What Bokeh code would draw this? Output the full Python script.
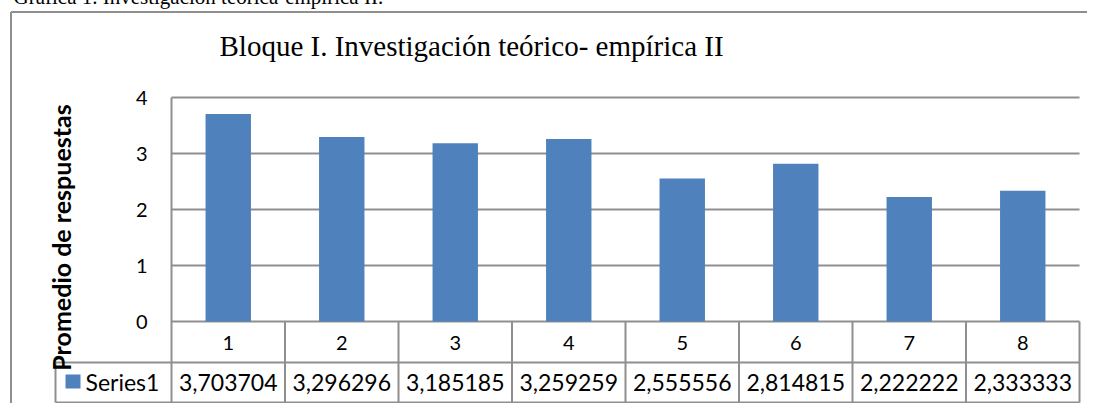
import math
from bokeh.plotting import figure
from bokeh.models import Range1d, ColumnDataSource
from bokeh.core.properties import value
from bokeh.embed import file_html
from bokeh.resources import INLINE

# ---------------- data ----------------
categories = ["1", "2", "3", "4", "5", "6", "7", "8"]
series_name = "Series1"
values = [3.703704, 3.296296, 3.185185, 3.259259, 2.555556, 2.814815, 2.222222, 2.333333]
y_ticks = [0, 1, 2, 3, 4]
title_text = "Bloque I. Investigación teórico- empírica II"
caption_text = "Gráfica 1. Investigación teórica-empírica II."
y_label = "Promedio de respuestas"

# ---------------- layout (pixel geometry of the reference) ----------------
W, H = 1087, 411
OX, OY = 0, -8           # observed canvas origin in page pixels
PX_LEFT, PX_RIGHT = 171, 1079
PX_Y0, PX_PER_UNIT = 321, 56
n = len(categories)
px_per_cat = (PX_RIGHT - PX_LEFT) / n


def dx(px):
    return (px - PX_LEFT) / px_per_cat


def dy(py):
    return (PX_Y0 - py) / PX_PER_UNIT


BAR = "#4F81BD"
GRID = "#8f8f8f"
FONT = value("Lato")
SERIF = value("Liberation Serif")

p = figure(width=W, height=H,
           x_range=Range1d(dx(OX), dx(OX + W)),
           y_range=Range1d(dy(OY + H), dy(OY)),
           x_axis_type=None, y_axis_type=None,
           output_backend="svg", toolbar_location=None, min_border=0)
p.outline_line_color = None
p.grid.visible = False
p.background_fill_color = "white"
p.border_fill_color = "white"
p.margin = (-8, 0, 0, 0)

# outer frame of the chart object
p.segment(x0=[dx(10.5), dx(10.5)], y0=[dy(11.5), dy(11.5)],
          x1=[dx(1100), dx(10.5)], y1=[dy(11.5), dy(420)],
          line_color=GRID, line_width=2)

# horizontal gridlines
p.segment(x0=[0] * len(y_ticks), y0=y_ticks, x1=[n] * len(y_ticks), y1=y_ticks,
          line_color=GRID, line_width=2)

# plot-area left edge
p.segment(x0=[0], y0=[max(y_ticks)], x1=[0], y1=[dy(402)], line_color=GRID, line_width=2)

# data table lines
row_mid = dy(362)
row_bot = dy(402)
leg_left = dx(55)
p.segment(x0=[leg_left, leg_left], y0=[row_mid, row_bot], x1=[n, n], y1=[row_mid, row_bot],
          line_color=GRID, line_width=2)
p.segment(x0=[leg_left], y0=[row_mid], x1=[leg_left], y1=[row_bot], line_color=GRID, line_width=2)
cols = list(range(1, n + 1))
p.segment(x0=cols, y0=[0] * n, x1=cols, y1=[row_bot] * n, line_color=GRID, line_width=2)

# bars
src = ColumnDataSource(dict(
    x=[i + 0.5 for i in range(n)],
    top=values,
    cat=categories,
    lab=[f"{v:.6f}".replace(".", ",") for v in values],
))
p.vbar(x="x", top="top", bottom=0, width=0.4, source=src, fill_color=BAR, line_color=None)

# y tick labels
p.text(x=[dx(147)] * len(y_ticks), y=y_ticks, text=[str(t) for t in y_ticks],
       text_align="right", text_baseline="middle", text_font=FONT,
       text_font_size="20px", text_color="black")

# category row
p.text(x="x", y=dy(342), text="cat", source=src, text_align="center",
       text_baseline="middle", text_font=FONT, text_font_size="20px", text_color="black")

# value row
p.text(x="x", y=dy(382), text="lab", source=src, text_align="center",
       text_baseline="middle", text_font=FONT, text_font_size="23px", text_color="black")

# legend key
p.quad(left=[dx(65)], right=[dx(80)], top=[dy(374)], bottom=[dy(388)],
       fill_color=BAR, line_color=None)
p.text(x=[dx(85)], y=[dy(381)], text=[series_name], text_align="left",
       text_baseline="middle", text_font=FONT, text_font_size="23px", text_color="black")

# y axis title
p.text(x=[dx(60)], y=[dy(237)], text=[y_label], angle=math.pi / 2,
       text_align="center", text_baseline="middle", text_font=FONT,
       text_font_size="25px", text_font_style="bold", text_color="black")

# chart title
p.text(x=[dx(219)], y=[dy(45)], text=[title_text], text_align="left",
       text_baseline="middle", text_font=SERIF, text_font_size="29px", text_color="black")

# document caption (clipped at top)
p.text(x=[dx(13)], y=[dy(-4)], text=[caption_text], text_align="left",
       text_baseline="middle", text_font=SERIF, text_font_size="21px", text_color="black")

open("out.html", "w").write(file_html(p, INLINE))
